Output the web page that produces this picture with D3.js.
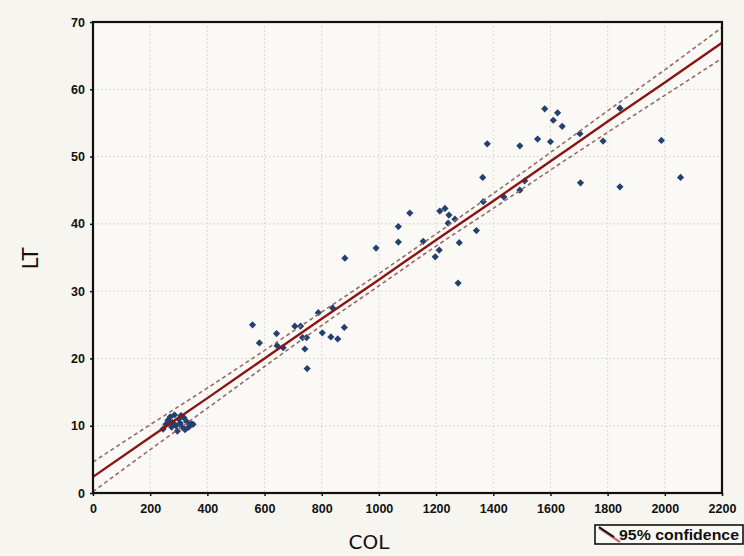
<!DOCTYPE html>
<html>
<head>
<meta charset="utf-8">
<script src="https://cdn.jsdelivr.net/npm/d3@7"></script>
<style>
  html, body { margin: 0; padding: 0; background: #f7f5f0; }
  svg { display: block; }
  text { font-family: "Liberation Sans", Arial, sans-serif; }
</style>
</head>
<body>
<svg id="chart" width="744" height="556"></svg>
<script>
// Observations: COL (x) against LT (y)
const colValues = [
  245, 255, 262, 270, 278, 285, 290, 295, 300, 305, 312, 318, 322, 328, 335, 342, 350, 275, 308,
  558, 582, 642, 644, 665, 706, 726, 733, 747, 741, 749, 788, 802, 832, 856, 879, 838,
  881, 990, 1068, 1068, 1108, 1155, 1211, 1197, 1213, 1231, 1245, 1242, 1266, 1281, 1341, 1277, 1365,
  1379, 1363, 1493, 1555, 1580, 1625, 1610, 1641, 1600, 1703, 1784, 1705, 1510, 1493, 1437,
  1843, 1988, 1843, 2055
];
const ltValues = [
  9.5, 10.2, 10.8, 11.3, 10.5, 11.6, 10.0, 9.2, 11.0, 10.4, 9.8, 11.2, 9.4, 10.6, 9.8, 10.3, 10.2, 9.8, 11.5,
  25.0, 22.3, 23.7, 21.9, 21.6, 24.8, 24.8, 23.1, 23.1, 21.4, 18.5, 26.8, 23.8, 23.2, 22.9, 24.6, 27.5,
  34.9, 36.4, 39.6, 37.3, 41.6, 37.4, 36.1, 35.1, 41.9, 42.3, 41.3, 40.1, 40.7, 37.2, 39.0, 31.2, 43.3,
  51.9, 46.9, 51.6, 52.6, 57.1, 56.5, 55.4, 54.5, 52.2, 53.4, 52.3, 46.1, 46.4, 45.0, 44.0,
  57.2, 52.4, 45.5, 46.9
];

// Fitted regression line and 95% confidence band, sampled along COL
const bandX   = [0, 200, 400, 600, 800, 1000, 1200, 1400, 1600, 1800, 2000, 2200];
const fitY    = [2.4, 8.3, 14.1, 20.0, 25.9, 31.7, 37.6, 43.4, 49.3, 55.2, 61.0, 66.9];
const upperY  = [4.6, 10.15, 15.6, 21.2, 26.9, 32.6, 38.5, 44.5, 50.6, 56.8, 62.9, 69.2];
const lowerY  = [0.2, 6.45, 12.6, 18.8, 24.9, 30.8, 36.7, 42.3, 48.0, 53.6, 59.1, 64.6];

// Axis ticks
const xTicks = [0, 200, 400, 600, 800, 1000, 1200, 1400, 1600, 1800, 2000, 2200];
const yTicks = [0, 10, 20, 30, 40, 50, 60, 70];

const svg = d3.select("#chart");
const plotLeft = 93, plotRight = 722, plotTop = 22, plotBottom = 493;

const x = d3.scaleLinear().domain([0, 2200]).range([plotLeft, plotRight]);
const y = d3.scaleLinear().domain([0, 70]).range([plotBottom, plotTop]);

// plot background
svg.append("rect").attr("x", plotLeft).attr("y", plotTop)
  .attr("width", plotRight - plotLeft).attr("height", plotBottom - plotTop)
  .attr("fill", "#faf9f6");

// dotted grid
const grid = svg.append("g");
grid.selectAll("line.gx").data(xTicks.slice(1, -1)).join("line")
  .attr("x1", d => x(d)).attr("x2", d => x(d))
  .attr("y1", plotTop).attr("y2", plotBottom)
  .attr("stroke", "#cfcdc8").attr("stroke-width", 1).attr("stroke-dasharray", "1.5,2.5");
grid.selectAll("line.gy").data(yTicks.slice(1, -1)).join("line")
  .attr("x1", plotLeft).attr("x2", plotRight)
  .attr("y1", d => y(d)).attr("y2", d => y(d))
  .attr("stroke", "#cfcdc8").attr("stroke-width", 1).attr("stroke-dasharray", "1.5,2.5");

// clip for data marks
svg.append("clipPath").attr("id", "plotclip").append("rect")
  .attr("x", plotLeft).attr("y", plotTop).attr("width", plotRight - plotLeft).attr("height", plotBottom - plotTop);
const plot = svg.append("g").attr("clip-path", "url(#plotclip)");

const bandLine = vals => d3.line().x((d, i) => x(bandX[i])).y(d => y(d)).curve(d3.curveMonotoneX)(vals);

// points: squares turned 45 degrees
const marker = d3.symbol().type(d3.symbolSquare).size(26);
plot.selectAll("path.pt").data(colValues.map((c, i) => [c, ltValues[i]])).join("path")
  .attr("class", "pt")
  .attr("d", marker)
  .attr("transform", d => `translate(${x(d[0])},${y(d[1])}) rotate(45)`)
  .attr("fill", "#23406f");

// confidence band
[upperY, lowerY].forEach(vals => {
  plot.append("path").attr("d", bandLine(vals))
    .attr("fill", "none").attr("stroke", "#9c6a6a")
    .attr("stroke-width", 1.6).attr("stroke-dasharray", "4,3");
});

// regression line
plot.append("path").attr("d", bandLine(fitY))
  .attr("fill", "none").attr("stroke", "#8b1515").attr("stroke-width", 2.4);

// frame
svg.append("rect").attr("x", plotLeft).attr("y", plotTop)
  .attr("width", plotRight - plotLeft).attr("height", plotBottom - plotTop)
  .attr("fill", "none").attr("stroke", "#111").attr("stroke-width", 2.2);

// axes
const xAxis = d3.axisBottom(x).tickValues(xTicks).tickSize(3).tickPadding(6).tickFormat(d3.format("d"));
const yAxis = d3.axisLeft(y).tickValues(yTicks).tickSize(3).tickPadding(5).tickFormat(d3.format("d"));

const gx = svg.append("g").attr("transform", `translate(0,${plotBottom})`).call(xAxis);
const gy = svg.append("g").attr("transform", `translate(${plotLeft},0)`).call(yAxis);
[gx, gy].forEach(g => {
  g.select(".domain").remove();
  g.selectAll(".tick line").attr("stroke", "#111").attr("stroke-width", 1.5);
  g.selectAll(".tick text")
    .attr("fill", "#111")
    .style("font-size", "12.5px").style("font-weight", "bold");
});
gx.selectAll(".tick text").attr("dy", "0.9em");

// axis titles
svg.append("text").attr("x", 369).attr("y", 549)
  .attr("text-anchor", "middle").attr("fill", "#111")
  .style("font-size", "20px").style("font-family", "'DejaVu Sans', sans-serif")
  .text("COL");
svg.append("text")
  .attr("transform", `translate(38,${y(35) + 1}) rotate(-90)`)
  .attr("text-anchor", "middle").attr("fill", "#111")
  .style("font-size", "21px").style("font-family", "'DejaVu Sans', sans-serif")
  .text("LT");

// legend
const lg = svg.append("g");
lg.append("rect").attr("x", 595).attr("y", 525).attr("width", 148).attr("height", 19)
  .attr("fill", "#faf9f6").attr("stroke", "#111").attr("stroke-width", 1.6);
lg.append("line").attr("x1", 599).attr("y1", 528).attr("x2", 620).attr("y2", 542)
  .attr("stroke", "#c86a7a").attr("stroke-width", 2.5);
lg.append("line").attr("x1", 599).attr("y1", 527).attr("x2", 614).attr("y2", 537)
  .attr("stroke", "#111").attr("stroke-width", 2);
lg.append("text").attr("x", 619).attr("y", 539.5)
  .attr("fill", "#111").style("font-size", "14.5px").style("font-weight", "bold")
  .attr("textLength", 120).attr("lengthAdjust", "spacingAndGlyphs")
  .text("95% confidence");
</script>
</body>
</html>
